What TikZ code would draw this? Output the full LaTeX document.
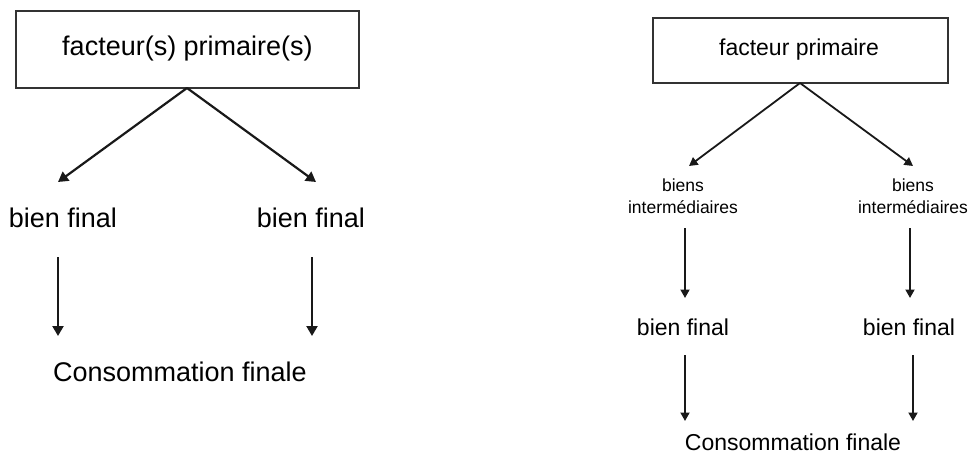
\documentclass[tikz,border=0pt]{standalone}
\usepackage{fontspec}
\setmainfont{Liberation Sans}
\usetikzlibrary{arrows.meta}
\begin{document}
\begin{tikzpicture}[x=1pt,y=-1pt,
  boxA/.style={draw=black!80,line width=2.5pt,fill=white},
  lbl/.style={inner sep=0pt,text=black},
  bigtxt/.style={lbl,font=\fontsize{27}{30}\selectfont},
  medtxt/.style={lbl,font=\fontsize{23}{26}\selectfont},
  smltxt/.style={lbl,align=center,font=\fontsize{17.5}{22}\selectfont},
  arrA/.style={draw=black!90,line width=2.2pt,-{Triangle[length=10pt,width=11pt]}},
  arrB/.style={draw=black!90,line width=1.8pt,-{Triangle[length=8.5pt,width=9pt]}}]
\useasboundingbox (0,0) rectangle (971,455);

% ---------------- left diagram ----------------
\draw[boxA] (16,11) rectangle (359,88);
\node[bigtxt] (fp) at (187.5,49) {facteur(s) primaire(s)};
\coordinate (fpS) at (187,88);
\coordinate (t1) at (58,182);
\coordinate (t2) at (316,182);
\node[bigtxt] (bfA) at (63,218) {bien final};
\node[bigtxt] (bfB) at (311,218) {bien final};
\coordinate (v1s) at (58,257);
\coordinate (v1e) at (58,336);
\coordinate (v2s) at (312,257);
\coordinate (v2e) at (312,336);
\node[bigtxt] (cfA) at (180,372) {Consommation finale};
\draw[arrA] (fpS) -- (t1);
\draw[arrA] (fpS) -- (t2);
\draw[arrA] (v1s) -- (v1e);
\draw[arrA] (v2s) -- (v2e);

% ---------------- right diagram ----------------
\draw[boxA,line width=2.2pt] (653,18) rectangle (948,83);
\node[medtxt] (fp2) at (799,50) {facteur primaire};
\coordinate (fp2S) at (800,83);
\coordinate (t3) at (689,166);
\coordinate (t4) at (913,166);
\node[smltxt] (biA) at (683,196) {biens\\intermédiaires};
\node[smltxt] (biB) at (913,196) {biens\\intermédiaires};
\coordinate (v3s) at (685,228);
\coordinate (v3e) at (685,298);
\coordinate (v4s) at (910,228);
\coordinate (v4e) at (910,298);
\node[medtxt] (bfC) at (683,327) {bien final};
\node[medtxt] (bfD) at (909,327) {bien final};
\coordinate (v5s) at (685,355);
\coordinate (v5e) at (685,421);
\coordinate (v6s) at (913,355);
\coordinate (v6e) at (913,421);
\node[medtxt] (cfB) at (793,442) {Consommation finale};
\draw[arrB] (fp2S) -- (t3);
\draw[arrB] (fp2S) -- (t4);
\draw[arrB] (v3s) -- (v3e);
\draw[arrB] (v4s) -- (v4e);
\draw[arrB] (v5s) -- (v5e);
\draw[arrB] (v6s) -- (v6e);
\end{tikzpicture}
\end{document}
